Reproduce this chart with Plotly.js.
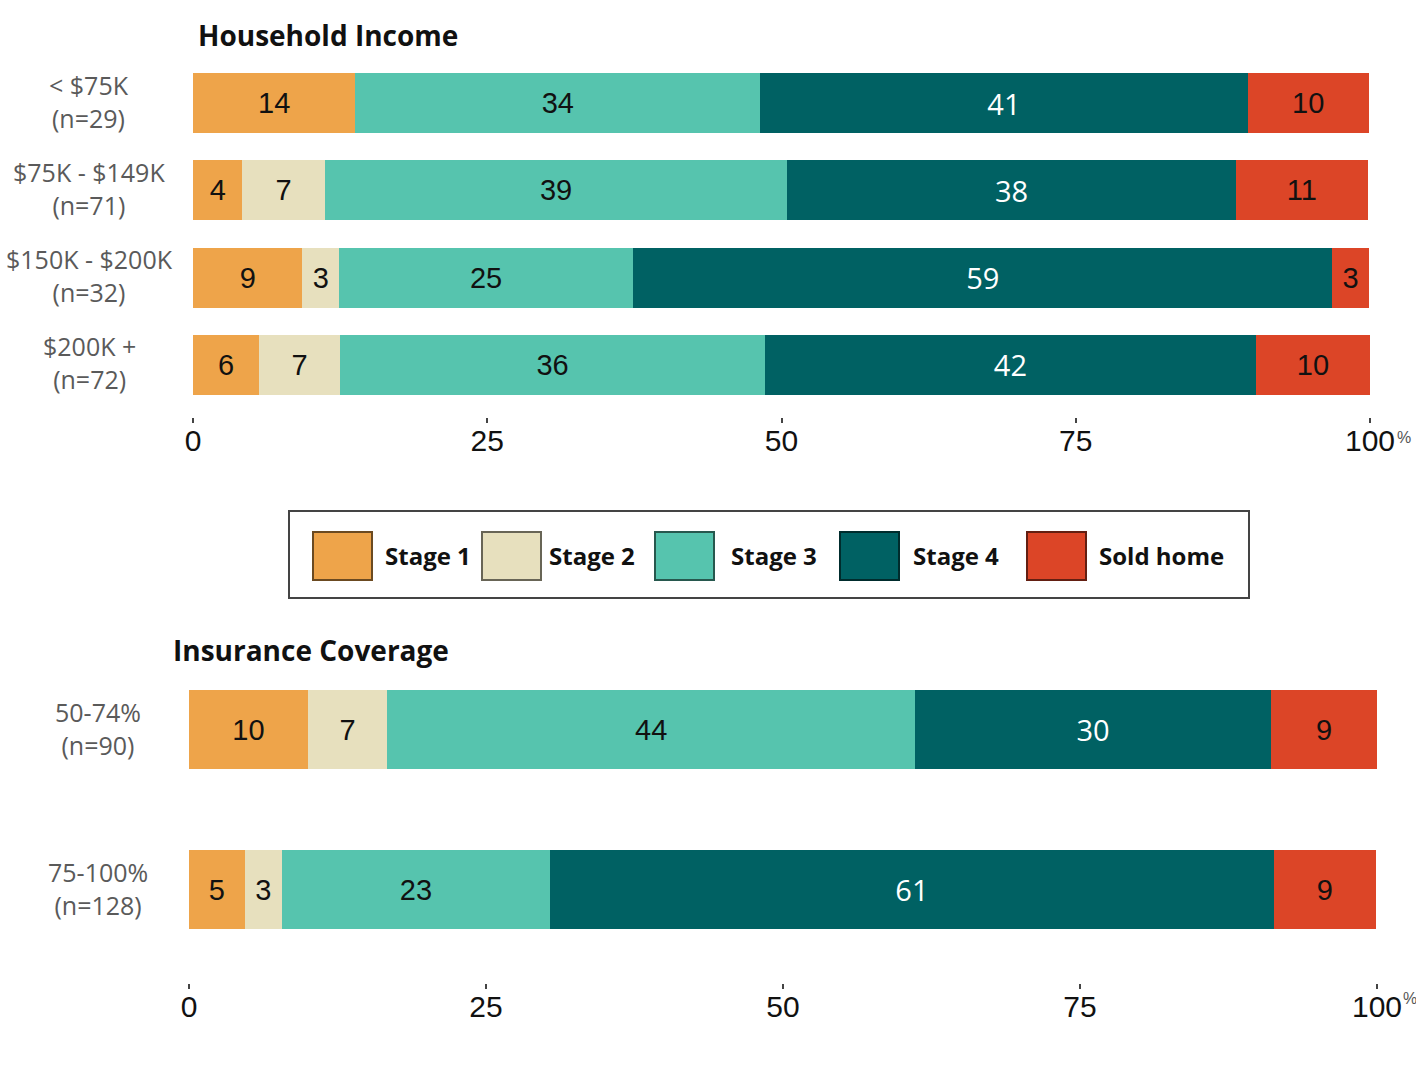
<!DOCTYPE html>
<html>
<head>
<meta charset="utf-8">
<script src="https://cdn.plot.ly/plotly-3.0.1.min.js"></script>
<style>
  html, body { margin: 0; padding: 0; background: #fff; }
  #chart { width: 1416px; height: 1072px; }
</style>
</head>
<body>
<div id="chart"></div>
<script>
// ---------- DATA ----------
const seriesNames = ['Stage 1', 'Stage 2', 'Stage 3', 'Stage 4', 'Sold home'];

const incomeCats = ['&lt; $75K<br>(n=29)', '$75K - $149K<br>(n=71)', '$150K - $200K<br>(n=32)', '$200K +<br>(n=72)'];
const incomeStage1 = [13.8, 4.2, 9.3, 5.6];
const incomeStage2 = [0, 7.0, 3.1, 6.9];
const incomeStage3 = [34.4, 39.3, 25.0, 36.1];
const incomeStage4 = [41.4, 38.1, 59.4, 41.7];
const incomeSold   = [10.3, 11.2, 3.1, 9.7];

const insuranceCats = ['50-74%<br>(n=90)', '75-100%<br>(n=128)'];
const insStage1 = [10.0, 4.7];
const insStage2 = [6.7, 3.1];
const insStage3 = [44.4, 22.6];
const insStage4 = [30.0, 60.9];
const insSold   = [8.9, 8.6];

const tickVals = [0, 25, 50, 75, 100];
const tickText = ['0', '25', '50', '75', '100'];
const unitSuffix = '%';

const titles = ['Household Income', 'Insurance Coverage'];

// ---------- STYLE ----------
const colors = ['#EEA44A', '#E7E0BE', '#56C4AE', '#006163', '#DC4527'];
const textColors = ['#111', '#111', '#111', '#fff', '#111'];
const textFonts = ['"Liberation Sans", Arial, sans-serif', '"Liberation Sans", Arial, sans-serif',
                   '"Liberation Sans", Arial, sans-serif', '"Open Sans", sans-serif', '"Liberation Sans", Arial, sans-serif'];
const W = 1416, H = 1072;

function darken(hex, f) {
  const n = parseInt(hex.slice(1), 16);
  const r = Math.round(((n >> 16) & 255) * f), g = Math.round(((n >> 8) & 255) * f), b = Math.round((n & 255) * f);
  return `rgb(${r},${g},${b})`;
}

const incomeSeries = [incomeStage1, incomeStage2, incomeStage3, incomeStage4, incomeSold];
const insSeries = [insStage1, insStage2, insStage3, insStage4, insSold];

const traces = [];
function addTraces(series, xa, ya, barWidth) {
  series.forEach((vals, i) => {
    traces.push({
      type: 'bar', orientation: 'h',
      x: vals,
      y: vals.map((_, k) => k),
      xaxis: xa, yaxis: ya,
      name: seriesNames[i],
      width: barWidth,
      marker: { color: colors[i], line: { width: 0 } },
      text: vals.map(v => String(Math.round(v))),
      texttemplate: '%{text}',
      textposition: vals.map(v => v > 0 ? 'inside' : 'none'),
      insidetextanchor: 'middle',
      textangle: 0,
      constraintext: 'none',
      insidetextfont: { family: textFonts[i], size: 29, color: textColors[i] },
      showlegend: false,
      hoverinfo: 'skip'
    });
  });
}
addTraces(incomeSeries, 'x', 'y', 0.687);
addTraces(insSeries, 'x2', 'y2', 0.494);

const tickFont = { family: '"Liberation Sans", Arial, sans-serif', size: 30, color: '#111' };
const xCommon = {
  range: [0, 100], tickvals: tickVals, ticktext: tickText,
  ticks: 'outside', ticklen: 5, tickwidth: 2, tickcolor: '#444',
  showgrid: false, zeroline: false, showline: false,
  tickfont: tickFont, fixedrange: true, ticklabelstandoff: -8
};
const yCommon = {
  type: 'linear', showticklabels: false, ticks: '', showgrid: false,
  zeroline: false, showline: false, fixedrange: true
};

const annotations = [];
const labelFont = { family: '"Open Sans", sans-serif', size: 25, color: '#5a5a5a' };
incomeCats.forEach((c, i) => annotations.push({
  text: c, xref: 'paper', yref: 'y', x: 89 / W, y: i, xanchor: 'center', yanchor: 'middle',
  align: 'center', showarrow: false, font: labelFont, yshift: 2
}));
insuranceCats.forEach((c, i) => annotations.push({
  text: c, xref: 'paper', yref: 'y2', x: 98 / W, y: i, xanchor: 'center', yanchor: 'middle',
  align: 'center', showarrow: false, font: labelFont, yshift: 1
}));
// small "%" after the last tick label of each axis
const pctFont = { family: '"Liberation Sans", Arial, sans-serif', size: 16, color: '#555' };
annotations.push({ text: unitSuffix, xref: 'x', yref: 'paper', x: tickVals[tickVals.length - 1], xshift: 34,
  y: 1 - 437 / H, xanchor: 'center', yanchor: 'middle', showarrow: false, font: pctFont });
annotations.push({ text: unitSuffix, xref: 'x2', yref: 'paper', x: tickVals[tickVals.length - 1], xshift: 33,
  y: 1 - 998 / H, xanchor: 'center', yanchor: 'middle', showarrow: false, font: pctFont });

const titleFont = { family: '"Open Sans", sans-serif', size: 28, color: '#111', weight: 700 };
annotations.push({ text: '<b>' + titles[0] + '</b>', xref: 'paper', yref: 'paper', x: 196 / W, y: 1 - 35 / H,
  xanchor: 'left', yanchor: 'middle', showarrow: false, font: titleFont });
annotations.push({ text: '<b>' + titles[1] + '</b>', xref: 'paper', yref: 'paper', x: 171 / W, y: 1 - 650 / H,
  xanchor: 'left', yanchor: 'middle', showarrow: false, font: titleFont });

// custom legend
const shapes = [];
shapes.push({ type: 'rect', xref: 'paper', yref: 'paper', x0: 289 / W, x1: 1249 / W, y0: 1 - 598 / H, y1: 1 - 511 / H,
  line: { color: '#444', width: 2 }, fillcolor: 'rgba(0,0,0,0)' });
const swatchX = [313, 482, 655, 840, 1027];
const labelX = [383, 547, 729, 911, 1097];
seriesNames.forEach((n, i) => {
  shapes.push({ type: 'rect', xref: 'paper', yref: 'paper', x0: swatchX[i] / W, x1: (swatchX[i] + 59) / W,
    y0: 1 - 580 / H, y1: 1 - 532 / H, fillcolor: colors[i], line: { color: darken(colors[i], 0.45), width: 2 } });
  annotations.push({ text: '<b>' + n + '</b>', xref: 'paper', yref: 'paper', x: labelX[i] / W, y: 1 - 555 / H,
    xanchor: 'left', yanchor: 'middle', showarrow: false,
    font: { family: '"Open Sans", sans-serif', size: 24, color: '#111', weight: 700 } });
});

const layout = {
  width: W, height: H,
  margin: { l: 0, r: 0, t: 0, b: 0, pad: 0 },
  paper_bgcolor: '#fff', plot_bgcolor: '#fff',
  barmode: 'stack', showlegend: false,
  xaxis: Object.assign({}, xCommon, { domain: [193 / W, 1370 / W], anchor: 'y' }),
  yaxis: Object.assign({}, yCommon, { domain: [1 - 417 / H, 1 - 59.35 / H], range: [3.596, -0.5], anchor: 'x' }),
  xaxis2: Object.assign({}, xCommon, { domain: [189 / W, 1377 / W], anchor: 'y2' }),
  yaxis2: Object.assign({}, yCommon, { domain: [1 - 983 / H, 1 - 649.5 / H], range: [1.584, -0.5], anchor: 'x2' }),
  annotations: annotations,
  shapes: shapes
};

Plotly.newPlot('chart', traces, layout, { displayModeBar: false, staticPlot: true });
</script>
</body>
</html>
